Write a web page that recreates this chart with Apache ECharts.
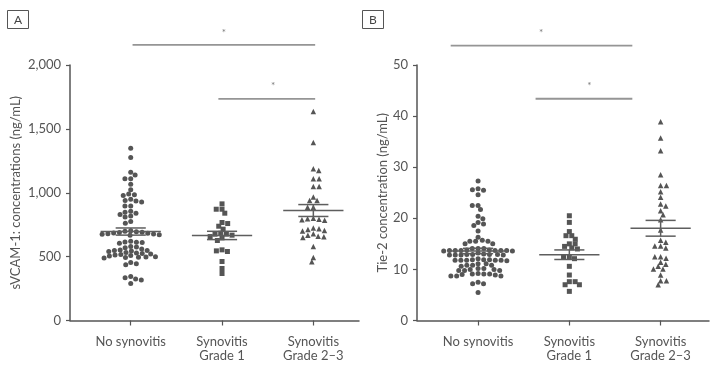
<!DOCTYPE html>
<html><head><meta charset="utf-8">
<script src="https://cdn.jsdelivr.net/npm/echarts@6/dist/echarts.min.js"></script>
<style>html,body{margin:0;padding:0;background:#fff}#c{width:717px;height:368px}</style>
</head><body><div id="c"></div>
<script>
// ---------- data ----------
const categories = ['No synovitis', 'Synovitis\nGrade 1', 'Synovitis\nGrade 2–3'];
const yTicksA = [0, 500, 1000, 1500, 2000];
const yTicksB = [0, 10, 20, 30, 40, 50];
const yNameA = 'sVCAM-1: concentrations (ng/mL)';
const yNameB = 'Tie-2 concentration (ng/mL)';

const vcamNone = [1349, 1276, 1161, 1138, 1109, 1109, 1067, 1023, 990, 984, 978, 950, 940, 935, 928,
  897, 897, 855, 848, 840, 830, 818, 810, 775, 762, 703, 698, 695, 690, 688, 685, 683, 680, 678, 676,
  672, 668, 620, 615, 613, 610, 605, 580, 575, 570, 560, 552, 548, 548, 545, 540, 532, 528, 524, 520,
  516, 512, 508, 504, 500, 497, 495, 493, 490, 454, 445, 436, 344, 335, 325, 318, 290];
const vcamGrade1 = [913, 871, 871, 840, 767, 759, 738, 715, 683, 676, 676, 668, 657, 647, 626, 553,
  545, 540, 462, 407, 368];
const vcamGrade23 = [1636, 1393, 1187, 1174, 1109, 1109, 1049, 1049, 966, 939, 939, 887, 887, 800, 796,
  792, 788, 784, 725, 718, 712, 705, 700, 680, 668, 660, 655, 650, 579, 493, 459];

const tieNone = [27.3, 25.6, 25.5, 25.8, 24.6, 22.5, 22.5, 21.7, 20.4, 19.9, 19.2, 18.9, 18.6, 17.5,
  16.3, 15.7, 15.5, 15.5, 15.5, 15.0, 15.0, 14.1, 14.1, 14.1,
  13.8, 13.7, 13.7, 13.8, 13.7, 13.7, 13.7, 13.7, 13.6, 13.6,
  12.9, 12.9, 12.8, 12.8, 12.8, 12.8, 12.9, 12.9, 13.0, 13.2,
  12.1, 11.9, 11.8, 11.8, 11.8, 11.8, 11.7, 11.8, 11.9, 11.9,
  10.8, 10.8, 10.6, 11.1, 11.1, 10.8,
  9.8, 10.2, 9.8, 10.0, 10.0, 9.8, 10.2,
  9.1, 9.1, 9.0, 8.7, 8.7, 8.7, 8.9, 9.1, 9.2,
  7.2, 7.2, 7.5, 5.5];
const tieGrade1 = [20.5, 19.2, 17.4, 16.6, 16.6, 15.9, 15.0, 15.0, 14.5, 14.2, 14.0, 12.5, 12.5, 12.1,
  10.6, 8.9, 7.6, 7.6, 7.0, 7.0, 5.7];
const tieGrade23 = [38.9, 35.7, 33.2, 28.5, 26.4, 26.4, 25.2, 24.1, 22.8, 22.4, 21.5, 20.7, 19.7, 17.7,
  15.7, 15.3, 14.6, 14.2, 14.6, 12.5, 12.2, 12.5, 11.4, 10.6, 11.0, 10.1, 10.1, 8.9, 7.8, 7.8, 7.0];

// significance comparisons (category positions & bar level, in data units)
const sigA = [{x1: 1.02, x2: 3.02, y: 2158, sx: 2.02, sy: 2252}, {x1: 1.96, x2: 3.02, y: 1735, sx: 2.56, sy: 1837}];
const sigB = [{x1: 0.70, x2: 2.69, y: 53.8, sx: 1.69, sy: 56.3}, {x1: 1.63, x2: 2.69, y: 43.4, sx: 2.22, sy: 45.9}];

// ---------- layout ----------
const FONT = 'Lato';
const TXT = '#555';
const gridA = {left: 70, top: 65, width: 289, height: 255.5};
const gridB = {left: 417, top: 65, width: 292, height: 255.5};
const xRangeA = [0.335, 3.5];
const xRangeB = [0.331, 3.53];
const pxPerCat = 91.3;
const SW_DX = 5.8, SW_DY = 4.5;   // swarm spacing (px) horizontally / vertically

function mean(a) { return a.reduce((s, v) => s + v, 0) / a.length; }
function sem(a) { const m = mean(a); const sd = Math.sqrt(a.reduce((s, v) => s + (v - m) * (v - m), 0) / (a.length - 1)); return sd / Math.sqrt(a.length); }

// deterministic beeswarm layout with elliptical spacing
function swarm(values, center, pxPerUnit) {
  const sorted = values.slice().sort((a, b) => b - a);
  const placed = [];
  const out = [];
  let flip = 1;
  const clear = (p, c, y) => ((p.x - c) / SW_DX) ** 2 + ((p.y - y) / SW_DY) ** 2 >= 1 - 1e-6;
  sorted.forEach(v => {
    const y = v * pxPerUnit;
    const near = placed.filter(p => Math.abs(p.y - y) < SW_DY);
    const cands = [0];
    near.forEach(p => { const dx = SW_DX * Math.sqrt(1 - ((p.y - y) / SW_DY) ** 2); cands.push(p.x + dx, p.x - dx); });
    cands.sort((a, b) => (Math.abs(a) - Math.abs(b)) || (flip * (a - b)));
    const x = cands.find(c => near.every(p => clear(p, c, y)));
    flip = -flip;
    placed.push({x, y});
    out.push([center + x / pxPerCat, v]);
  });
  return out;
}

function statsRender(params, api) {
  const x = api.value(0), m = api.value(1), s = api.value(2);
  const hm = 0.33, hc = 0.165;
  const st = {stroke: '#5e5e5e', lineWidth: 1.5};
  const seg = (a, b) => ({type: 'line', shape: {x1: a[0], y1: a[1], x2: b[0], y2: b[1]}, style: st});
  return {type: 'group', children: [
    seg(api.coord([x - hm, m]), api.coord([x + hm, m])),
    seg(api.coord([x - hc, m + s]), api.coord([x + hc, m + s])),
    seg(api.coord([x - hc, m - s]), api.coord([x + hc, m - s])),
    seg(api.coord([x, m + s]), api.coord([x, m - s]))
  ]};
}

function xAxisCfg(gi, range) {
  return {type: 'value', gridIndex: gi, min: range[0], max: range[1],
    axisLine: {show: true, onZero: false, lineStyle: {color: TXT, width: 1.5}},
    axisTick: {show: true, customValues: [1, 2, 3], length: 5, lineStyle: {color: TXT, width: 1.2}},
    axisLabel: {show: true, customValues: [1, 2, 3], formatter: v => categories[Math.round(v) - 1],
      margin: 14, color: TXT, fontSize: 13, lineHeight: 14, fontFamily: FONT},
    splitLine: {show: false}};
}
function yAxisCfg(gi, ticks, name, gap, fmt) {
  return {type: 'value', gridIndex: gi, min: ticks[0], max: ticks[ticks.length - 1],
    interval: ticks[1] - ticks[0], name: name, nameLocation: 'middle', nameGap: gap,
    nameTextStyle: {color: TXT, fontSize: 13, fontFamily: FONT},
    axisLine: {show: true, onZero: false, lineStyle: {color: TXT, width: 1.5}},
    axisTick: {show: true, length: 4, lineStyle: {color: TXT, width: 1.2}},
    axisLabel: {color: TXT, fontSize: 13, fontFamily: FONT, margin: 9, formatter: fmt},
    splitLine: {show: false}};
}

const pxA = gridA.height / 2000, pxB = gridB.height / 50;
const groupsA = [vcamNone, vcamGrade1, vcamGrade23];
const groupsB = [tieNone, tieGrade1, tieGrade23];
const symbols = ['circle', 'rect', 'triangle'];
const sizes = [5, 5, 5.5];

const series = [];
[[groupsA, pxA, 0], [groupsB, pxB, 1]].forEach(([groups, px, gi]) => {
  groups.forEach((g, k) => {
    series.push({type: 'scatter', xAxisIndex: gi, yAxisIndex: gi, symbol: symbols[k], symbolSize: sizes[k],
      itemStyle: {color: '#555', opacity: 1}, silent: true, z: 3,
      data: swarm(g, k + 1, px)});
  });
  series.push({type: 'custom', xAxisIndex: gi, yAxisIndex: gi, renderItem: statsRender, z: 4, silent: true,
    data: groups.map((g, k) => [k + 1, mean(g), sem(g)])});
});
[[sigA, 0], [sigB, 1]].forEach(([sig, gi]) => {
  sig.forEach(s => series.push({type: 'line', xAxisIndex: gi, yAxisIndex: gi, clip: false, symbol: 'none', silent: true,
    lineStyle: {color: '#959595', width: 1.8}, data: [[s.x1, s.y], [s.x2, s.y]]}));
  series.push({type: 'scatter', xAxisIndex: gi, yAxisIndex: gi, clip: false, symbolSize: 0, silent: true,
    label: {show: true, formatter: '*', position: 'inside', color: '#555', fontSize: 10, fontFamily: FONT},
    data: sig.map(s => [s.sx, s.sy])});
});

const chart = echarts.init(document.getElementById('c'), null, {renderer: 'canvas'});
chart.setOption({
  animation: false,
  backgroundColor: '#fff',
  grid: [gridA, gridB],
  xAxis: [xAxisCfg(0, xRangeA), xAxisCfg(1, xRangeB)],
  yAxis: [yAxisCfg(0, yTicksA, yNameA, 48, v => v.toLocaleString('en-US')),
          yAxisCfg(1, yTicksB, yNameB, 28, v => String(v))],
  graphic: [
    {type: 'rect', shape: {x: 7.5, y: 10.5, width: 21, height: 18}, style: {fill: '#fff', stroke: '#555', lineWidth: 1}},
    {type: 'text', x: 18, y: 20, style: {text: 'A', fill: '#444', font: '12px Lato', align: 'center', verticalAlign: 'middle'}},
    {type: 'rect', shape: {x: 362.5, y: 10.5, width: 21, height: 18}, style: {fill: '#fff', stroke: '#555', lineWidth: 1}},
    {type: 'text', x: 373, y: 20, style: {text: 'B', fill: '#444', font: '12px Lato', align: 'center', verticalAlign: 'middle'}}
  ],
  series: series
});
</script></body></html>
